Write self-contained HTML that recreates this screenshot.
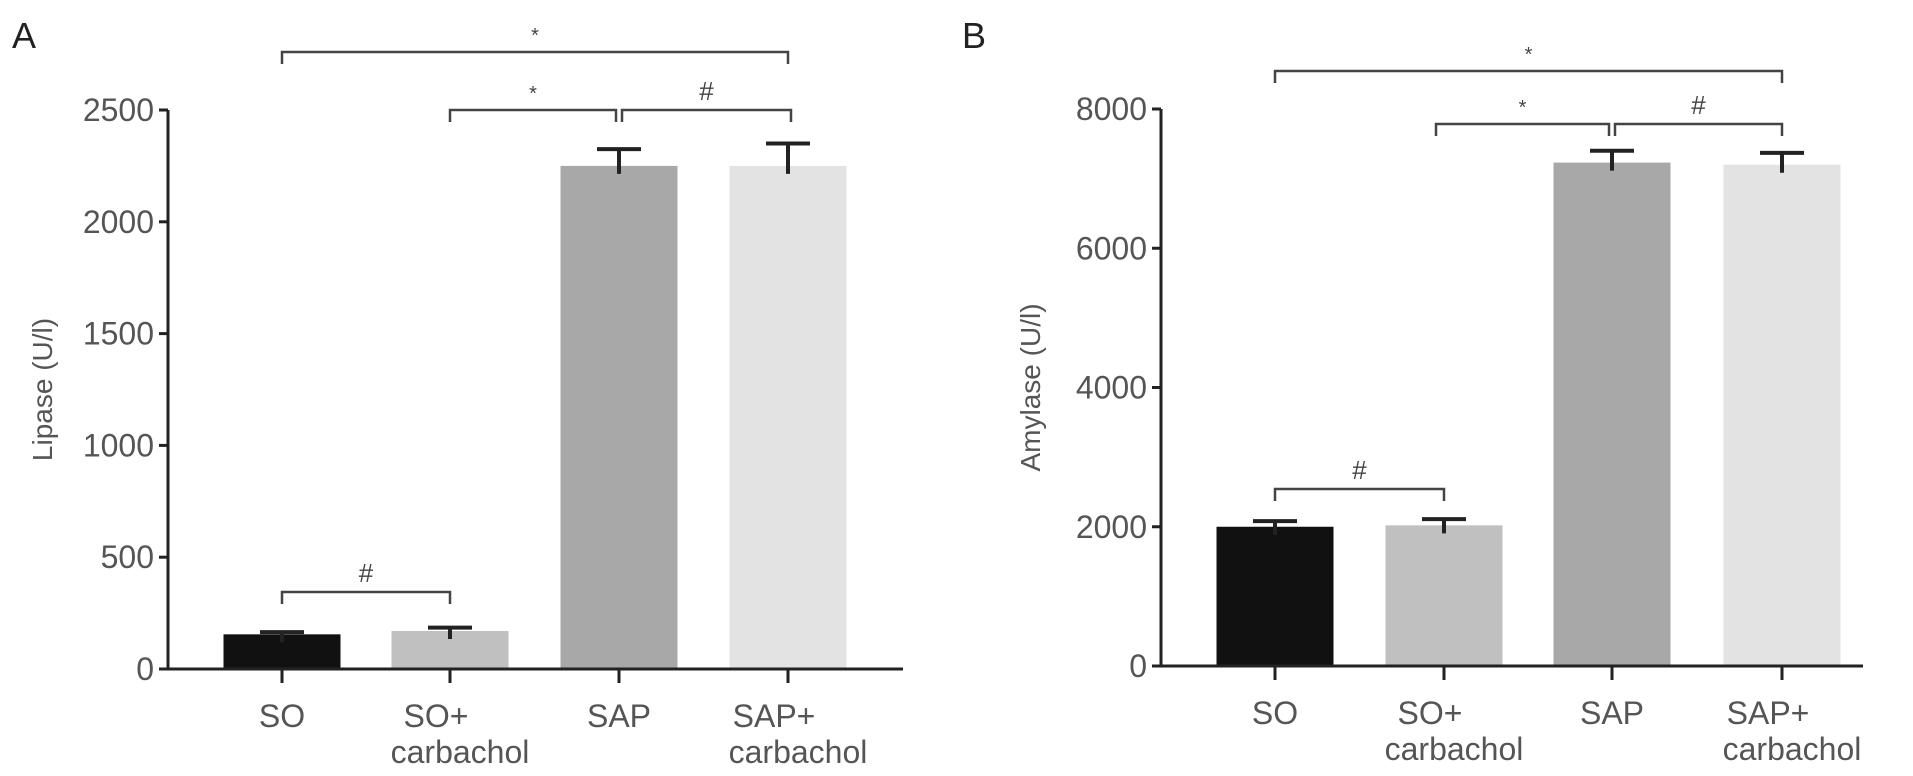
<!DOCTYPE html>
<html><head><meta charset="utf-8"><style>
html,body{margin:0;padding:0;background:#fff;}
svg{display:block;font-family:"Liberation Sans",sans-serif;}
</style></head><body>
<svg id="svg" width="1913" height="776" viewBox="0 0 1913 776"></svg>
<script>
const categories = ["SO","SO+|carbachol","SAP","SAP+|carbachol"];
const lipaseValues = [155, 170, 2250, 2250];
const lipaseErrors = [10, 15, 75, 100];
const lipaseTicks = [0,500,1000,1500,2000,2500];
const amylaseValues = [2000, 2020, 7230, 7200];
const amylaseErrors = [80, 90, 170, 170];
const amylaseTicks = [0,2000,4000,6000,8000];
const barColors = ["#111111","#c0c0c0","#a8a8a8","#e3e3e3"];

const NS="http://www.w3.org/2000/svg";
const svg=document.getElementById('svg');
function mk(tag,attrs,parent){const e=document.createElementNS(NS,tag);for(const k in attrs)e.setAttribute(k,attrs[k]);(parent||svg).appendChild(e);return e;}

function panel(cfg){
  const g=mk('g',{});
  
  
  const yScale=v=>cfg.y0-(v/cfg.max)*(cfg.y0-cfg.yTop);
  const xScale=i=>cfg.centers[i];
  cfg.values.forEach((v,i)=>{
    const cx=xScale(i);
    const b=mk('rect',{x:cx-cfg.bw/2,y:yScale(v),width:cfg.bw,height:cfg.y0-yScale(v),fill:barColors[i]},g);
    
    
    const top=yScale(v+cfg.errors[i]);
    const e=mk('path',{d:`M${cx},${yScale(v)+8}V${top}M${cx-22},${top}H${cx+22}`,stroke:'#222','stroke-width':4,fill:'none'},g);
    
    
  });
  const ax=mk('path',{d:`M${cfg.ax},${cfg.yTop}V${cfg.y0}H${cfg.xEnd}`,stroke:'#222','stroke-width':3,fill:'none'},g);
  
  
  cfg.ticks.forEach(t=>{
    const y=yScale(t);
    mk('line',{x1:cfg.ax-9,x2:cfg.ax,y1:y,y2:y,stroke:'#222','stroke-width':3},g);
    const tx=mk('text',{x:cfg.ax-14,y:y+11,'text-anchor':'end','font-size':32,fill:'#555'},g);
    tx.textContent=t;
    
    
  });
  categories.forEach((c,i)=>{
    const cx=xScale(i);
    mk('line',{x1:cx,x2:cx,y1:cfg.y0,y2:cfg.y0+14,stroke:'#222','stroke-width':3},g);
    const parts=c.split('|');
    parts.forEach((p,j)=>{
      const off=parts.length>1?(j===0?-14:10):0;
      const tx=mk('text',{x:cx+off,y:cfg.y0+58+j*36,'text-anchor':'middle','font-size':32,fill:'#555'},g);
      tx.textContent=p;
      
      
    });
  });
  const yt=mk('text',{x:0,y:0,'text-anchor':'middle','font-size':28,fill:'#555',transform:`translate(${cfg.titleX},${(cfg.yTop+cfg.y0)/2}) rotate(-90)`},g);
  yt.textContent=cfg.title;
  
  
  const lt=mk('text',{x:cfg.letterX,y:48,'font-size':36,fill:'#222'},g);
  lt.textContent=cfg.letter;
  
  
  cfg.brackets.forEach(b=>{
    const x1=xScale(b[0])+(b[4]||0),x2=xScale(b[1])+(b[5]||0),y=b[2];
    const p=mk('path',{d:`M${x1},${y+12}V${y}H${x2}V${y+12}`,stroke:'#444','stroke-width':2.5,fill:'none'},g);
    
    
    const s=mk('text',{x:(x1+x2)/2,y:y-10,'text-anchor':'middle','font-size':b[3]==='*'?20:26,fill:'#444'},g);
    s.textContent=b[3];
    
    
  });
}
panel({name:'panel-a-lipase',values:lipaseValues,errors:lipaseErrors,ticks:lipaseTicks,max:2500,
  y0:669,yTop:110,ax:168,xEnd:903,centers:[282,450,619,788],bw:117,title:'Lipase (U/l)',titleX:52,letter:'A',letterX:12,
  brackets:[[0,3,52,'*'],[1,2,110,'*',0,-3],[2,3,110,'#',3,3],[0,1,592,'#']]});
panel({name:'panel-b-amylase',values:amylaseValues,errors:amylaseErrors,ticks:amylaseTicks,max:8000,
  y0:666,yTop:109,ax:1161,xEnd:1863,centers:[1275,1444,1612,1782],bw:117,title:'Amylase (U/l)',titleX:1040,letter:'B',letterX:962,
  brackets:[[0,3,71,'*'],[1,2,124,'*',-8,-3],[2,3,124,'#',3,0],[0,1,489,'#']]});
</script>
</body></html>
